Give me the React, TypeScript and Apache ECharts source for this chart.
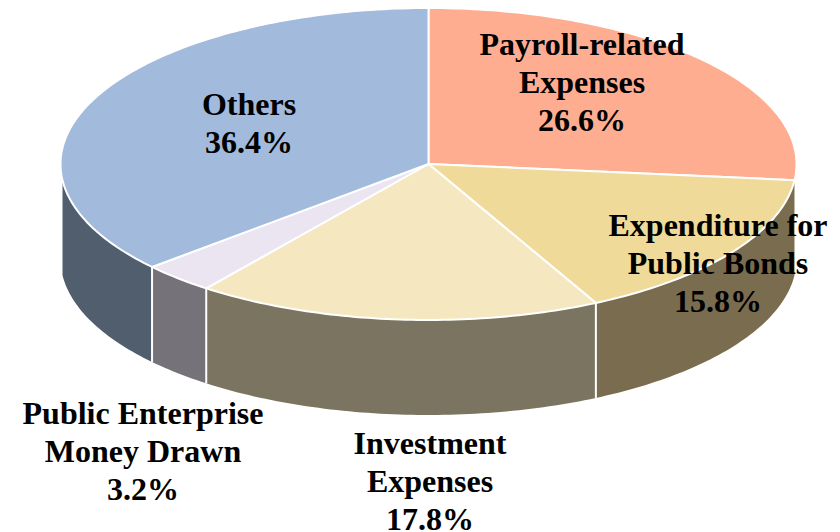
import React, { useEffect, useRef } from "react";
import * as echarts from "echarts";

const categories = [
  "Payroll-related\nExpenses",
  "Expenditure for\nPublic Bonds",
  "Investment\nExpenses",
  "Public Enterprise\nMoney Drawn",
  "Others",
];
const shares = [26.6, 15.8, 17.8, 3.2, 36.4];

const topColors = ["#FFAD91", "#F0DA9A", "#F5E7C0", "#EBE5F2", "#A2BADC"];
const wallColors = ["#7D6F52", "#7A6D4F", "#7A7460", "#76727A", "#505E6E"];

// Layout of the projected disc, in page pixels
const CX = 428.5;
const CY = 164;
const RX = 368;
const RY = 156;
const DEPTH = 95;
const WALL_FROM = 96;
const WALL_TO = 264;
const LINE_STEP = 38;
const labelCentres: [number, number][] = [
  [582, 82],
  [718, 263],
  [430, 481],
  [143, 451],
  [249, 123],
];

const total = shares.reduce((a, b) => a + b, 0);

function rim(deg: number, drop = 0): [number, number] {
  const r = (deg * Math.PI) / 180;
  return [CX + RX * Math.sin(r), CY - RY * Math.cos(r) + drop];
}

function arc(from: number, to: number, drop = 0): [number, number][] {
  const pts: [number, number][] = [];
  const steps = Math.max(2, Math.ceil(to - from));
  for (let i = 0; i <= steps; i++) pts.push(rim(from + ((to - from) * i) / steps, drop));
  return pts;
}

function renderItem(params: any, api: any) {
  const i = params.dataIndex;
  const before = shares.slice(0, i).reduce((a, b) => a + b, 0);
  const start = (before / total) * 360;
  const end = start + (api.value(0) / total) * 360;
  const children: any[] = [];
  const wallStart = Math.max(start, WALL_FROM);
  const wallEnd = Math.min(end, WALL_TO);
  if (wallEnd > wallStart) {
    children.push({
      type: "polygon",
      z2: 1,
      shape: { points: [...arc(wallStart, wallEnd), ...arc(wallStart, wallEnd, DEPTH).reverse()] },
      style: { fill: wallColors[i] },
    });
    if (wallStart > WALL_FROM) {
      const [x1, y1] = rim(wallStart);
      const [x2, y2] = rim(wallStart, DEPTH);
      children.push({
        type: "line",
        z2: 1.5,
        shape: { x1, y1, x2, y2 },
        style: { stroke: "#FFFFFF", lineWidth: 2 },
      });
    }
  }
  children.push({
    type: "polygon",
    z2: 2,
    shape: { points: [[CX, CY], ...arc(start, end)] },
    style: { fill: topColors[i], stroke: "#FFFFFF", lineWidth: 2, lineJoin: "round" },
  });
  const lines = `${categories[i]}\n${shares[i].toFixed(1)}%`.split("\n");
  lines.forEach((line, k) => {
    children.push({
      type: "text",
      z2: 10,
      x: labelCentres[i][0],
      y: labelCentres[i][1] + (k - (lines.length - 1) / 2) * LINE_STEP,
      style: {
        text: line,
        fill: "#000000",
        font: 'bold 32px "Liberation Serif"',
        lineHeight: 24,
        align: "center",
        verticalAlign: "middle",
      },
    });
  });
  return { type: "group", children };
}

export default function App() {
  const ref = useRef<HTMLDivElement>(null);
  useEffect(() => {
    const chart = echarts.init(ref.current!, undefined, { renderer: "svg" });
    chart.setOption({
      animation: false,
      backgroundColor: "#FFFFFF",
      series: [
        {
          type: "custom",
          coordinateSystem: "none",
          silent: true,
          clip: false,
          data: shares.map((v) => [v]),
          renderItem,
        },
      ],
    });
    return () => chart.dispose();
  }, []);
  return <div ref={ref} style={{ position: "absolute", left: 0, top: 0, width: 840, height: 532 }} />;
}
